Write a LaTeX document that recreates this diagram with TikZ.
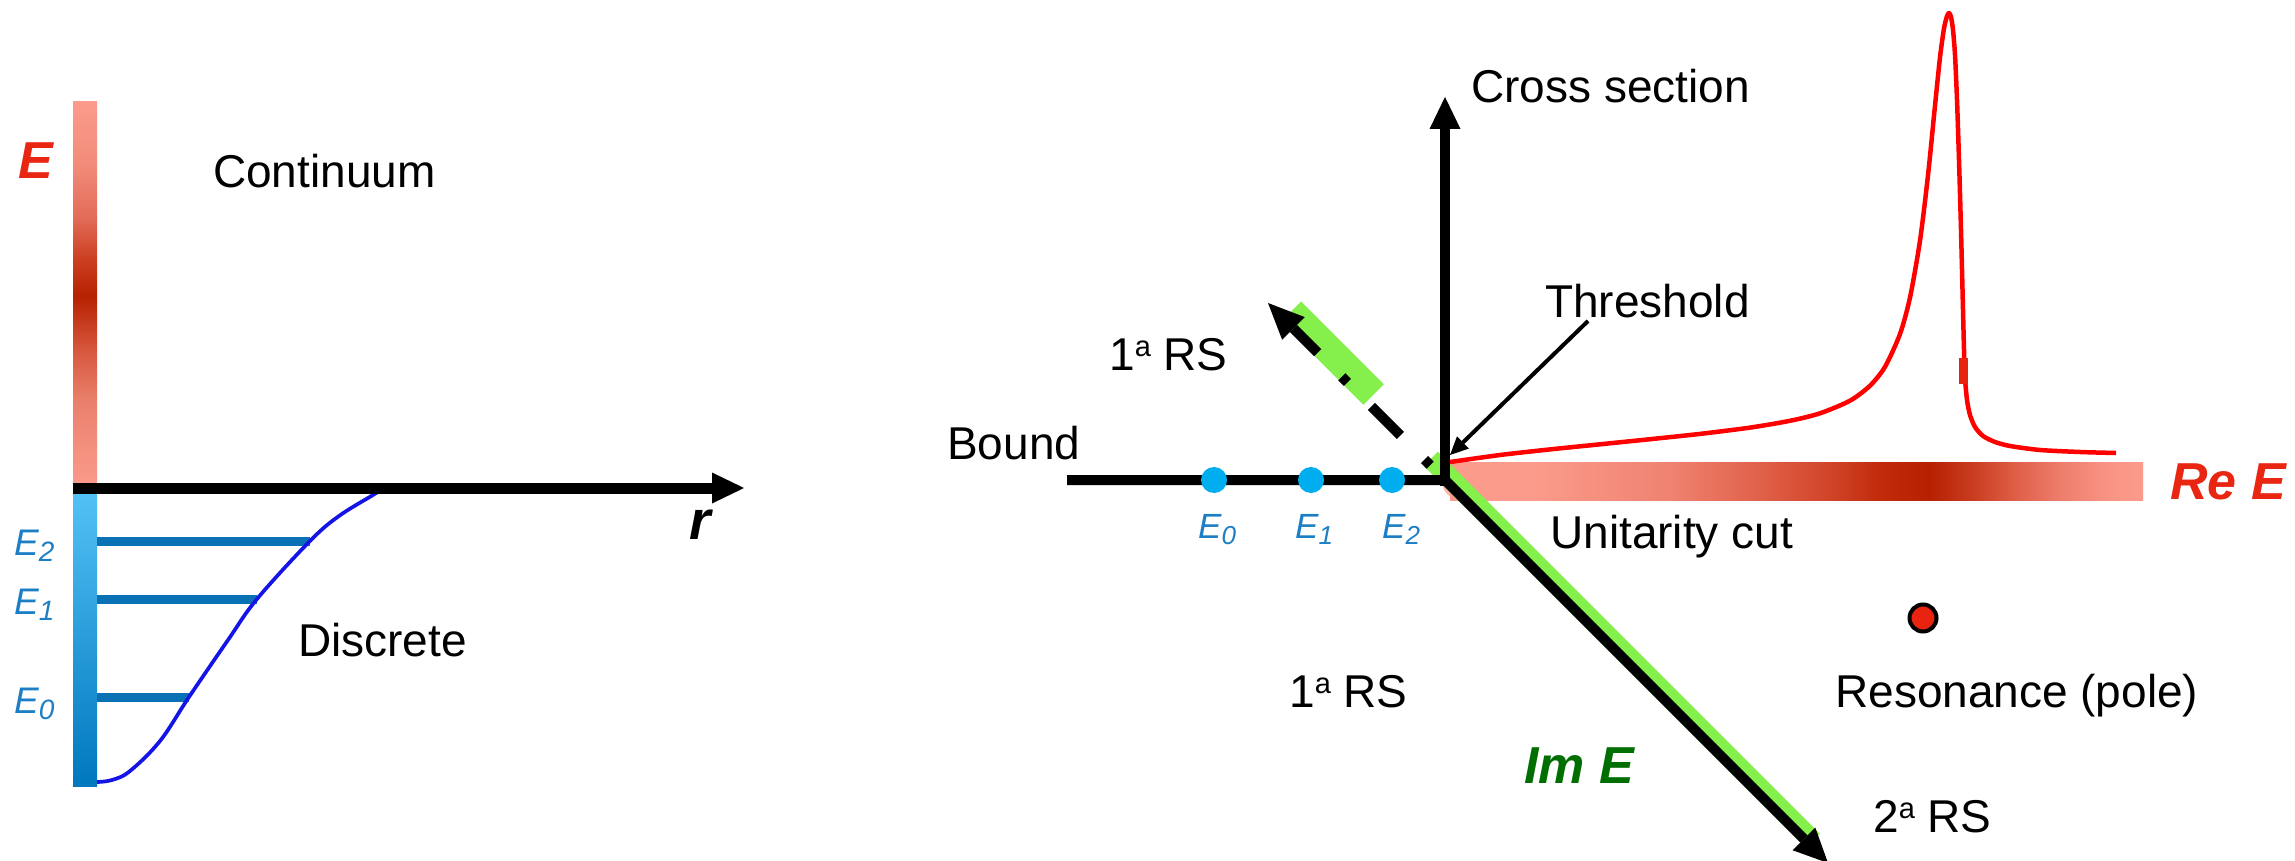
\documentclass[tikz,border=0pt]{standalone}
\usepackage{fontspec}
\setmainfont{Liberation Sans}
\usetikzlibrary{arrows.meta}
\definecolor{salmon}{RGB}{251,155,139}
\definecolor{rdark}{RGB}{182,33,0}
\definecolor{rc1}{RGB}{239,130,112}
\definecolor{rc2}{RGB}{224,96,72}
\definecolor{rc3}{RGB}{208,67,40}
\definecolor{rc4}{RGB}{194,43,12}
\definecolor{rc5}{RGB}{200,58,30}
\definecolor{rc6}{RGB}{222,94,70}
\definecolor{rc7}{RGB}{238,125,108}
\definecolor{rc8}{RGB}{249,148,132}
\definecolor{lc1}{RGB}{244,144,126}
\definecolor{lc2}{RGB}{233,127,107}
\definecolor{lc3}{RGB}{216,90,64}
\definecolor{lc4}{RGB}{205,66,36}
\definecolor{lc5}{RGB}{226,108,88}
\definecolor{lc6}{RGB}{242,140,122}
\definecolor{lblue}{RGB}{84,194,246}
\definecolor{dblue}{RGB}{0,120,190}
\definecolor{levelblue}{RGB}{10,114,180}
\definecolor{curveblue}{RGB}{20,20,230}
\definecolor{dotblue}{RGB}{0,174,239}
\definecolor{labblue}{RGB}{28,126,196}
\definecolor{redE}{RGB}{232,38,18}
\definecolor{greenE}{RGB}{0,110,0}
\definecolor{bandgreen}{RGB}{133,240,75}
\definecolor{redmark}{RGB}{232,35,15}
\pgfdeclarehorizontalshading{reshade}{100bp}{color(0bp)=(salmon); color(25bp)=(salmon); color(31bp)=(salmon); color(41bp)=(rc1); color(47.5bp)=(rc2); color(52.5bp)=(rc3); color(56bp)=(rc4); color(59.5bp)=(rdark); color(62.5bp)=(rc5); color(65.7bp)=(rc6); color(69bp)=(rc7); color(72.5bp)=(rc8); color(75bp)=(salmon); color(100bp)=(salmon)}
\pgfdeclareverticalshading{leftshade}{100bp}{color(0bp)=(salmon); color(25bp)=(salmon); color(30bp)=(lc1); color(36.5bp)=(lc2); color(42.5bp)=(lc3); color(49.9bp)=(rdark); color(55bp)=(lc4); color(60bp)=(lc5); color(67bp)=(lc6); color(75bp)=(salmon); color(100bp)=(salmon)}
\newcommand\Esub[3]{\fontsize{#1pt}{#1pt}\selectfont\itshape E\raisebox{-0.18em}{\fontsize{#2pt}{#2pt}\selectfont #3}}
\newcommand\supa{\raisebox{0.29em}{\fontsize{29pt}{29pt}\selectfont a}}
\tikzset{
  lab/.style={anchor=base west, inner sep=0pt, font=\fontsize{46pt}{46pt}\selectfont},
  bigE/.style={anchor=base west, inner sep=0pt, font=\fontsize{52pt}{52pt}\selectfont\bfseries\itshape},
  elab/.style={anchor=base west, inner sep=0pt, text=labblue},
  level/.style={draw=levelblue, line width=9pt},
  axisline/.style={draw=black, line width=10pt},
  dotnode/.style={circle, fill=dotblue, minimum size=26pt, inner sep=0pt},
  bigtip/.style={-{Triangle[length=32pt,width=31pt,line width=0pt]}},
}
\begin{document}
\begin{tikzpicture}[x=1pt,y=-1pt]
\useasboundingbox (0,0) rectangle (2295,861);
% ---------- left panel ----------
\shade[shading=leftshade] (73,102) rectangle (97,488);
\shade[top color=lblue, bottom color=dblue] (73,488) rectangle (97,786);
\coordinate (L2a) at (97,541); \coordinate (L2b) at (310,541);
\coordinate (L1a) at (97,599); \coordinate (L1b) at (257,599);
\coordinate (L0a) at (97,697); \coordinate (L0b) at (189,697);
\draw[level] (L2a) -- (L2b);
\draw[level] (L1a) -- (L1b);
\draw[level] (L0a) -- (L0b);
\draw[curveblue, line width=3.7pt] plot[smooth, tension=0.6] coordinates {(97,782) (112,780) (130,771) (160,741) (189,697) (228,640) (257,599) (310,541) (339,516) (373,495) (384,488)};
\coordinate (ax0) at (73,488); \coordinate (ax1) at (744,488);
\draw[black, line width=11pt, bigtip] (ax0) -- (ax1);
\node[bigE, text=redE] (Eaxis) at (18,179) {E};
\node[lab] (cont) at (213,188) {Continuum};
\node[lab] (disc) at (298,656) {Discrete};
\node[anchor=base west, inner sep=0pt, font=\fontsize{55pt}{55pt}\selectfont\bfseries\itshape] (rlab) at (689,539) {r};
\node[elab] (E2l) at (14,555) {\Esub{37}{28}{2}};
\node[elab] (E1l) at (14,614) {\Esub{37}{28}{1}};
\node[elab] (E0l) at (14,713) {\Esub{37}{28}{0}};
% ---------- right panel ----------
\coordinate (V) at (1445,480);
\coordinate (Vb) at (1445,486);
\coordinate (B0) at (1067,480);
\coordinate (Ytip) at (1445,97);
\coordinate (Dtip) at (1268,303);
\coordinate (Ltip) at (1828,863);
\coordinate (G1a) at (1373.6,394.4); \coordinate (G1b) at (1290.9,311.7);
\coordinate (G2a) at (1430.8,458.8); \coordinate (G2b) at (1812.7,840.7);
\shade[shading=reshade] (1450,462) rectangle (2143,500);
\fill[salmon, opacity=0.75] (1461,481) circle[radius=19];
\draw[bandgreen, line width=29pt] (G1a) -- (G1b);
\draw[bandgreen, line width=20pt] (G2a) -- (G2b);
\draw[axisline, miter limit=10, -{Triangle[length=34pt,width=32pt,line width=0pt]}] (B0) -- (V) -- (Ltip);
\draw[axisline, bigtip] (Vb) -- (Ytip);
\draw[axisline, dash pattern=on 41pt off 34pt on 8pt off 34pt, dash phase=54pt, -{Triangle[length=36pt,width=32pt,line width=0pt]}] (V) -- (Dtip);
\node[dotnode] (d0) at (1214,480) {};
\node[dotnode] (d1) at (1311,480) {};
\node[dotnode] (d2) at (1392,480) {};
\draw[red, line width=4.5pt, line join=round] plot[smooth, tension=0.45] coordinates {(1450,462) (1500,455) (1550,449.4) (1600,444.3) (1650,439.2) (1700,433.9) (1750,427.6) (1790,420.8) (1820,413.3) (1850,400.7) (1870,385.7) (1885,366.8) (1900,334) (1910,297.5) (1920,240.6) (1928,175.2) (1935,105.5) (1940,57.3) (1944,28.3) (1947,16.2) (1949,13) (1951,17) (1953,30) (1955,55) (1957,100) (1959,160) (1961,230) (1962.5,290) (1964,350) (1965,378) (1967,400) (1970,415) (1975,427) (1983,436) (1995,442) (2010,446) (2040,450) (2080,452) (2116,453)};
\fill[redmark] (1959,358) rectangle (1968,384);
\node[circle, fill=redmark, draw=black, line width=4pt, minimum size=27pt, inner sep=0pt] (pole) at (1923,618) {};
\coordinate (thrA) at (1588,321);
\coordinate (thrB) at (1450,455);
\draw[black, line width=4pt, -{Triangle[length=18pt,width=17pt,line width=0pt]}] (thrA) -- (thrB);
\node[lab] (cross) at (1471,102.5) {Cross section};
\node[lab] (thr) at (1545,317) {Threshold};
\node[lab] (bound) at (947,459) {Bound};
\node[lab] (rs1u) at (1109,370) {1\supa\ RS};
\node[lab] (unit) at (1550,548) {Unitarity cut};
\node[lab] (reso) at (1835,707) {Resonance (pole)};
\node[lab] (rs1l) at (1289,707) {1\supa\ RS};
\node[lab] (rs2) at (1873,832) {2\supa\ RS};
\node[bigE, text=greenE] (ImE) at (1524,783) {Im E};
\node[bigE, text=redE] (ReE) at (2170,499) {Re E};
\node[elab] (E0r) at (1198,538) {\Esub{35}{26}{0}};
\node[elab] (E1r) at (1295,538) {\Esub{35}{26}{1}};
\node[elab] (E2r) at (1382,538) {\Esub{35}{26}{2}};
\end{tikzpicture}
\end{document}
